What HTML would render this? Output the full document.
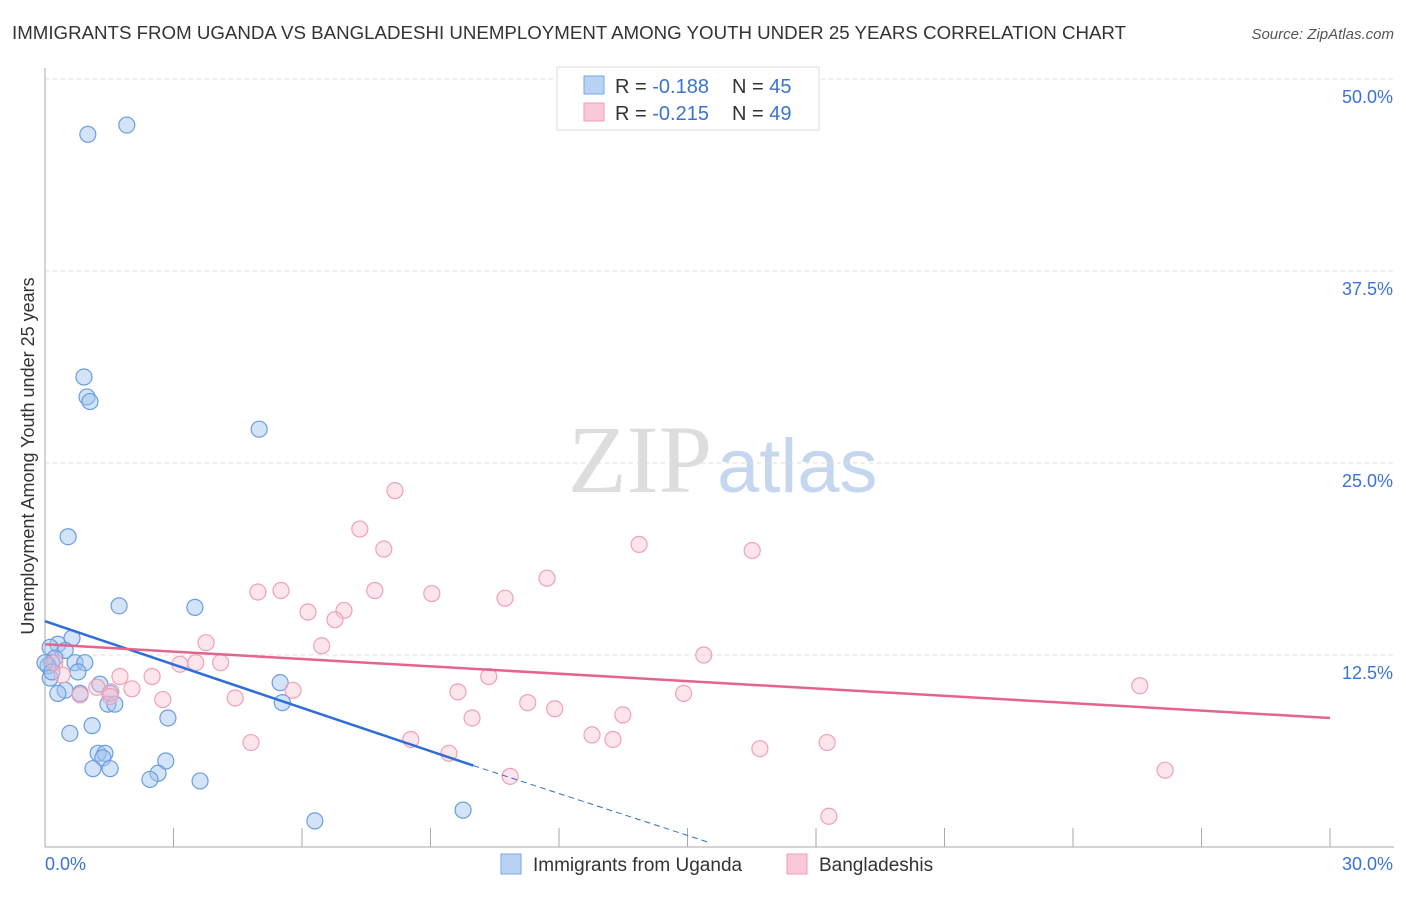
<!DOCTYPE html>
<html><head><meta charset="utf-8"><style>
body{margin:0;background:#fff;font-family:"Liberation Sans",sans-serif}
</style></head><body>
<svg id="c" width="1406" height="892" xmlns="http://www.w3.org/2000/svg" style="font-family:'Liberation Sans',sans-serif">
<text x="12" y="39" font-size="18" fill="#333" textLength="1114" lengthAdjust="spacingAndGlyphs">IMMIGRANTS FROM UGANDA VS BANGLADESHI UNEMPLOYMENT AMONG YOUTH UNDER 25 YEARS CORRELATION CHART</text>
<text x="1394" y="39" font-size="15" fill="#555" font-style="italic" text-anchor="end">Source: ZipAtlas.com</text>
<text x="712" y="492" font-size="96" fill="#ddd" font-family="Liberation Serif" text-anchor="end">ZIP</text>
<text x="717" y="492" font-size="76" fill="#c5d7ef">atlas</text>
<text transform="translate(34,456) rotate(-90)" font-size="18" fill="#333" text-anchor="middle">Unemployment Among Youth under 25 years</text>
<g id="grid"></g><g id="pts"></g><g id="lines"></g>
<g>
<rect x="557" y="67" width="262" height="63" fill="#fff" stroke="#ddd"/>
<rect x="584" y="76" width="20" height="18" fill="#b9d3f5" stroke="#7aa6e6"/>
<rect x="584" y="103" width="20" height="18" fill="#fac8d7" stroke="#f09ab5"/>
<text x="615" y="93" font-size="20" fill="#333">R = <tspan fill="#3b73d1">-0.188</tspan></text>
<text x="732" y="93" font-size="20" fill="#333">N = <tspan fill="#3b73d1">45</tspan></text>
<text x="615" y="120" font-size="20" fill="#333">R = <tspan fill="#3b73d1">-0.215</tspan></text>
<text x="732" y="120" font-size="20" fill="#333">N = <tspan fill="#3b73d1">49</tspan></text>
</g>
<g>
<rect x="501" y="854" width="20" height="20" fill="#b9d3f5" stroke="#7aa6e6"/>
<text x="533" y="871" font-size="19" fill="#333">Immigrants from Uganda</text>
<rect x="787" y="854" width="20" height="20" fill="#fac8d7" stroke="#f09ab5"/>
<text x="819" y="871" font-size="19" fill="#333">Bangladeshis</text>
</g>
</svg>
<script>
const yTicks=[12.5,25,37.5,50];
const yTickLabels=["12.5%","25.0%","37.5%","50.0%"];
const blueX=[1.00,1.91,0.91,0.98,1.05,5.00,0.54,1.73,3.50,0.63,0.30,0.12,0.47,0.23,0.16,0.70,0.93,0.07,0.77,0.12,1.28,0.47,0.82,0.30,1.52,5.49,1.47,1.63,5.54,2.87,1.10,0.58,1.24,1.40,1.35,2.82,1.12,1.52,2.64,2.45,3.62,6.30,9.76,0.00,0.16];
const blueY=[46.4,47.0,30.6,29.3,29.0,27.2,20.2,15.7,15.6,13.6,13.2,13.0,12.8,12.3,12.0,12.0,12.0,11.8,11.4,11.0,10.6,10.2,10.0,10.0,10.0,10.7,9.3,9.3,9.4,8.4,7.9,7.4,6.1,6.1,5.8,5.6,5.1,5.1,4.8,4.4,4.3,1.7,2.4,12.0,11.4];
const pinkX=[8.17,7.35,7.91,13.87,16.51,11.72,4.97,5.51,7.70,9.03,10.74,6.14,6.98,6.77,3.76,6.46,15.38,3.15,3.52,4.10,0.23,0.40,1.75,2.50,1.21,2.03,1.54,5.79,10.36,9.64,14.91,25.56,2.75,4.44,1.52,0.82,11.27,11.90,9.97,13.49,4.81,8.54,12.77,13.26,9.43,16.69,18.26,10.86,26.15,18.30];
const pinkY=[23.2,20.7,19.4,19.7,19.3,17.5,16.6,16.7,16.7,16.5,16.2,15.3,15.4,14.8,13.3,13.1,12.5,11.9,12.0,12.0,12.0,11.2,11.1,11.1,10.4,10.3,10.1,10.2,11.1,10.1,10.0,10.5,9.6,9.7,9.8,9.9,9.4,9.0,8.4,8.6,6.8,7.0,7.3,7.0,6.1,6.4,6.8,4.6,5.0,2.0];
const blueLine=[[0,14.7],[10,5.3]];const blueDash=[[10,5.3],[15.5,0.3]];
const pinkLine=[[0,13.2],[30,8.4]];
const X=v=>45+v/30*1285, Y=v=>847-v/50*768;
const NS="http://www.w3.org/2000/svg";
function mk(t,a,p){const e=document.createElementNS(NS,t);for(const k in a)e.setAttribute(k,a[k]);p.appendChild(e);return e;}
const g=document.getElementById('grid');
yTicks.forEach((t,i)=>{const l=mk('line',{x1:45,x2:1394,y1:Y(t),y2:Y(t),stroke:'#ddd','stroke-dasharray':'4,4'},g);

const tx=mk('text',{x:1393,y:Y(t)+24,'font-size':18,fill:'#3b73d1','text-anchor':'end'},g);tx.textContent=yTickLabels[i];
});
const ax=mk('line',{x1:45,x2:45,y1:68,y2:847,stroke:'#aaa'},g);
const bx=mk('line',{x1:45,x2:1394,y1:847,y2:847,stroke:'#aaa'},g);
for(let i=1;i<=10;i++){const t=mk('line',{x1:X(i*3),x2:X(i*3),y1:828,y2:847,stroke:'#aaa'},g);}
[["0.0%",45,'start'],["30.0%",1393,'end']].forEach(a=>{const t=mk('text',{x:a[1],y:870,'font-size':18,fill:'#3b73d1','text-anchor':a[2]},g);t.textContent=a[0];
});
const p=document.getElementById('pts');
blueX.forEach((v,i)=>{const c=mk('circle',{cx:X(v),cy:Y(blueY[i]),r:8,fill:'rgba(160,196,240,0.45)',stroke:'#6a9de0','stroke-width':1.2},p);
});
pinkX.forEach((v,i)=>{const c=mk('circle',{cx:X(v),cy:Y(pinkY[i]),r:8,fill:'rgba(250,190,208,0.4)',stroke:'#f0a0b8','stroke-width':1.2},p);
});
const L=document.getElementById('lines');
const a=mk('line',{x1:X(blueLine[0][0]),y1:Y(blueLine[0][1]),x2:X(blueLine[1][0]),y2:Y(blueLine[1][1]),stroke:'#2d6fd6','stroke-width':2.5},L);

const b=mk('line',{x1:X(blueDash[0][0]),y1:Y(blueDash[0][1]),x2:X(blueDash[1][0]),y2:Y(blueDash[1][1]),stroke:'#2d6fd6','stroke-width':1,'stroke-dasharray':'6,4'},L);

const c2=mk('line',{x1:X(pinkLine[0][0]),y1:Y(pinkLine[0][1]),x2:X(pinkLine[1][0]),y2:Y(pinkLine[1][1]),stroke:'#e4638f','stroke-width':2.5},L);

</script>
</body></html>
